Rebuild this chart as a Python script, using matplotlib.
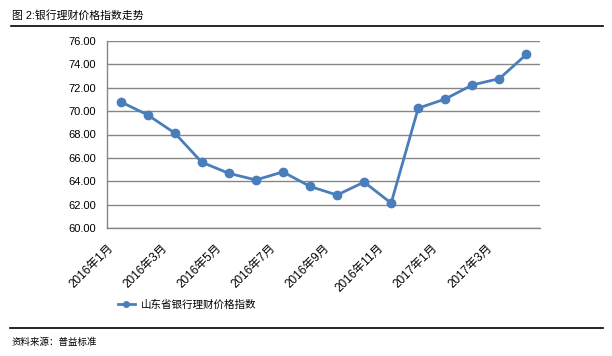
import matplotlib
matplotlib.use("Agg")
import matplotlib.pyplot as plt
from matplotlib.lines import Line2D

plt.rcParams['font.family'] = ['Liberation Sans', 'Noto Sans CJK SC', 'DejaVu Sans']

months = ['2016年1月', '2016年2月', '2016年3月', '2016年4月', '2016年5月', '2016年6月',
          '2016年7月', '2016年8月', '2016年9月', '2016年10月', '2016年11月', '2016年12月',
          '2017年1月', '2017年2月', '2017年3月', '2017年4月']
index_values = [70.80, 69.68, 68.13, 65.63, 64.68, 64.11, 64.80, 63.56,
                62.82, 63.93, 62.13, 70.25, 71.04, 72.24, 72.78, 74.86]
y_ticks = [60, 62, 64, 66, 68, 70, 72, 74, 76]
series_name = '山东省银行理财价格指数'

blue = '#4A7EBB'
grid_grey = '#868686'

fig = plt.figure(figsize=(6.12, 3.56), dpi=100)
ax = fig.add_axes([107 / 612, 1 - 228 / 356, 433 / 612, 187 / 356])

x = list(range(len(months)))
ax.plot(x, index_values, color=blue, lw=2, marker='o', ms=6, zorder=3)

ax.set_xlim(-0.5, len(months) - 0.5)
ax.set_ylim(60, 76)
ax.set_yticks(y_ticks)
ax.set_yticklabels([f'{v:.2f}' for v in y_ticks], fontsize=8)
ax.yaxis.grid(True, color=grid_grey, lw=1)
ax.set_axisbelow(True)

# labels end at the left edge of their category, as in the original
ax.set_xticks([i - 0.5 for i in x[::2]])
ax.set_xticklabels(months[::2], rotation=45, ha='right', rotation_mode='anchor', fontsize=8.5)

ax.tick_params(axis='both', length=0)
ax.tick_params(axis='y', pad=8)
ax.tick_params(axis='x', pad=10)
for side in ['top', 'right']:
    ax.spines[side].set_visible(False)
for side in ['left', 'bottom']:
    ax.spines[side].set_color(grid_grey)
    ax.spines[side].set_linewidth(1)

# legend
handle = Line2D([0], [0], color=blue, lw=2, marker='o', ms=4)
fig.legend([handle], [series_name], loc='center left', bbox_to_anchor=(108 / 612, 1 - 305 / 356),
           frameon=False, fontsize=7.6, handlelength=1.7, handletextpad=0.5)

# title and source
fig.text(12 / 612, 1 - 15 / 356, '图 2:银行理财价格指数走势', fontsize=7.8, va='center', ha='left')
fig.add_artist(Line2D([11 / 612, 603 / 612], [1 - 26 / 356, 1 - 26 / 356], color='black', lw=1.2))
fig.add_artist(Line2D([10 / 612, 603 / 612], [1 - 328 / 356, 1 - 328 / 356], color='black', lw=1.2))
fig.text(12 / 612, 1 - 342 / 356, '资料来源：普益标准', fontsize=6.8, va='center', ha='left')

fig.savefig('out.png', dpi=100)
